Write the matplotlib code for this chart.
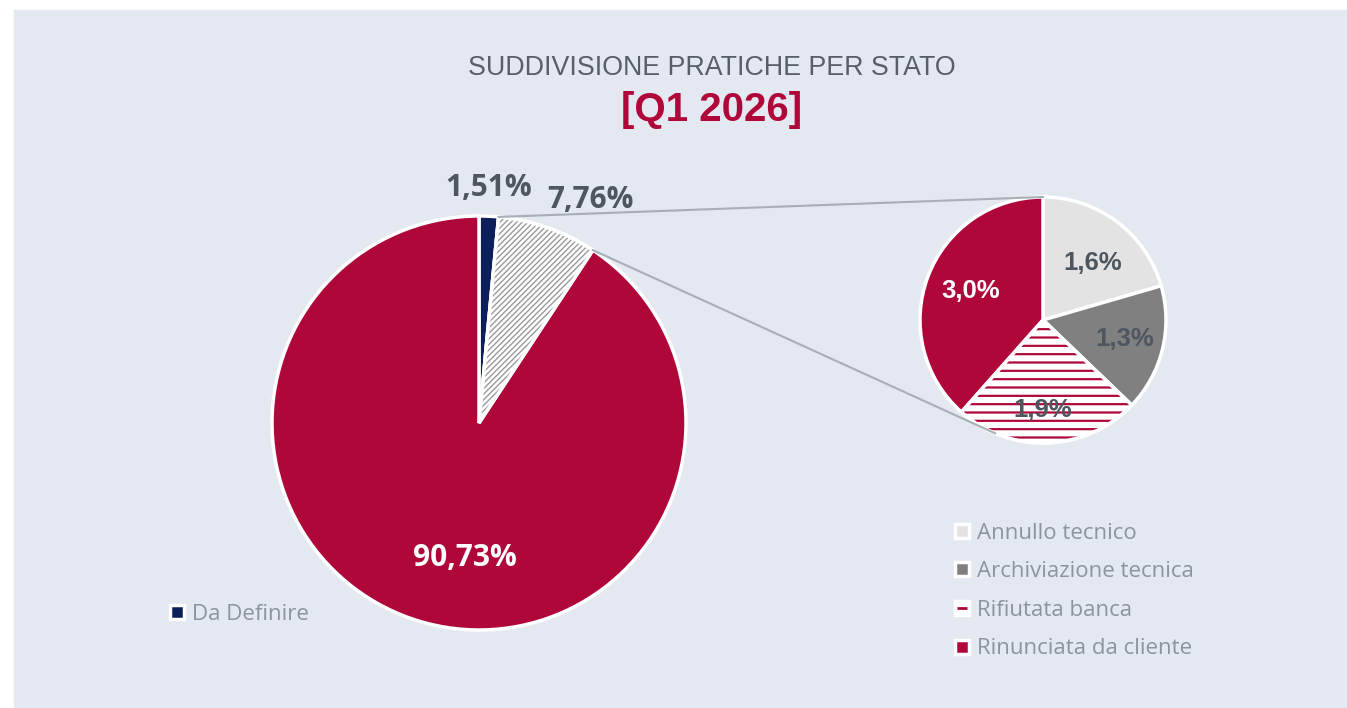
import matplotlib
matplotlib.use('Agg')
import matplotlib.pyplot as plt
from matplotlib.patches import Rectangle, Wedge
from matplotlib.lines import Line2D
from matplotlib.legend_handler import HandlerTuple
import numpy as np

plt.rcParams['hatch.linewidth'] = 1.6

# dati
main_labels = ['Da Definire', 'Altro', 'Rinunciata (resto)']
main_vals = [1.51, 7.76, 90.73]
sub_labels = ['Annullo tecnico', 'Archiviazione tecnica', 'Rifiutata banca', 'Rinunciata da cliente']
sub_vals = [1.6, 1.3, 1.9, 3.0]

RED = '#b0073a'
NAVY = '#0c1f5a'
LGRAY = '#e3e3e3'
DGRAY = '#808080'
BG = '#e4e8f0'
LBL = '#4e565f'
LEG = '#8a959d'

W, H = 1347, 708
fig = plt.figure(figsize=(W / 100, H / 100), dpi=100)
fig.patch.set_facecolor('white')
ax = fig.add_axes([0, 0, 1, 1])
ax.set_xlim(0, W)
ax.set_ylim(0, H)
ax.axis('off')
ax.add_patch(Rectangle((14, 0), W - 14, H - 10, color=BG, zorder=0))


def hatch_over(w, color, pattern, hlw):
    # copia della fetta con solo il tratteggio, poi il bordo bianco sopra
    p = Wedge(w.center, w.r, w.theta1, w.theta2, facecolor='none',
              edgecolor=color, linewidth=0, hatch=pattern, zorder=w.get_zorder() + 0.1)
    if hasattr(p, 'set_hatch_linewidth'):
        p.set_hatch_linewidth(hlw)
    ax.add_patch(p)
    ax.add_patch(Wedge(w.center, w.r, w.theta1, w.theta2, facecolor='none',
                       edgecolor='white', linewidth=2.5, zorder=w.get_zorder() + 0.2))


# --- torta principale ---
c1, r1 = (479, 285), 207
main_colors = [NAVY, 'white', RED]
w1, _ = ax.pie(main_vals, colors=main_colors, startangle=90, counterclock=False,
               center=c1, radius=r1, frame=True,
               wedgeprops=dict(edgecolor='white', linewidth=2.5))
hw = w1[1]
hatch_over(hw, '#9a9a9a', '//////', 1.0)

# --- torta secondaria ---
c2, r2 = (1043, 388), 123
sub_colors = [LGRAY, DGRAY, 'white', RED]
w2, _ = ax.pie(sub_vals, colors=sub_colors, startangle=90, counterclock=False,
               center=c2, radius=r2, frame=True, explode=[0.03, 0, 0, 0],
               wedgeprops=dict(edgecolor='white', linewidth=2.5))
hatch_over(w2[2], RED, '--', 1.6)
ax.set_xlim(0, W)
ax.set_ylim(0, H)
ax.set_aspect('equal')

# linee di collegamento
a_top = np.deg2rad(hw.theta2)
a_bot = np.deg2rad(hw.theta1)
p1 = (c1[0] + r1 * np.cos(a_top), c1[1] + r1 * np.sin(a_top))
p2 = (c1[0] + r1 * np.cos(a_bot), c1[1] + r1 * np.sin(a_bot))
q1 = (c2[0], c2[1] + r2)
qa = np.deg2rad(247)
q2 = (c2[0] + r2 * np.cos(qa), c2[1] + r2 * np.sin(qa))
ax.plot([p1[0], q1[0]], [p1[1], q1[1]], color='#a8afb7', lw=1.5, zorder=5)
ax.plot([p2[0], q2[0]], [p2[1], q2[1]], color='#a8afb7', lw=1.5, zorder=5)


# etichette
def fmt(v, d):
    return f'{v:.{d}f}%'.replace('.', ',')


main_pos = [(489, 520), (590, 508), (465, 150)]
main_txtc = [LBL, LBL, 'white']
for v, (x, y), tc in zip(main_vals, main_pos, main_txtc):
    ax.text(x, y, fmt(v, 2), ha='center', va='center', fontsize=21.5,
            fontweight='bold', color=tc, family='Open Sans', zorder=6)

sub_pos = [(1093, 445), (1125, 369), (1043, 298), (971, 417)]
sub_txtc = [LBL, LBL, LBL, 'white']
for v, (x, y), tc in zip(sub_vals, sub_pos, sub_txtc):
    ax.text(x, y, fmt(v, 1), ha='center', va='center', fontsize=18.5,
            fontweight='bold', color=tc, family='Liberation Sans', zorder=6)

# titolo
ax.text(712, H - 68, 'SUDDIVISIONE PRATICHE PER STATO', ha='center', va='center',
        fontsize=19.3, color='#595f66', family='Liberation Sans')
ax.text(712, H - 110, '[Q1 2026]', ha='center', va='center',
        fontsize=29, fontweight='bold', color=RED, family='Liberation Sans')


# legende
def sq(c):
    return Line2D([], [], marker='s', linestyle='none', markersize=10.5,
                  markerfacecolor=c, markeredgecolor='white', markeredgewidth=2.5)


leg1 = ax.legend([sq(NAVY)], ['Da Definire'], loc='center left',
                 bbox_to_anchor=(168 / W, 94 / H), frameon=False, borderpad=0,
                 borderaxespad=0, handlelength=0.8, handletextpad=0.3,
                 prop={'family': 'Open Sans', 'size': 16}, labelcolor=LEG)
ax.add_artist(leg1)

dash = Line2D([], [], marker='_', linestyle='none', markersize=7,
              markeredgecolor=RED, markeredgewidth=2)
h2 = [sq(LGRAY), sq(DGRAY), (sq('white'), dash), sq(RED)]
ax.legend(h2, sub_labels, loc='center left', bbox_to_anchor=(953 / W, 117 / H),
          frameon=False, borderpad=0, borderaxespad=0, handlelength=0.8,
          handletextpad=0.3, labelspacing=0.79,
          handler_map={tuple: HandlerTuple(ndivide=1, pad=0)},
          prop={'family': 'Open Sans', 'size': 16}, labelcolor=LEG)

plt.savefig('out.png', dpi=100)
plt.close()
